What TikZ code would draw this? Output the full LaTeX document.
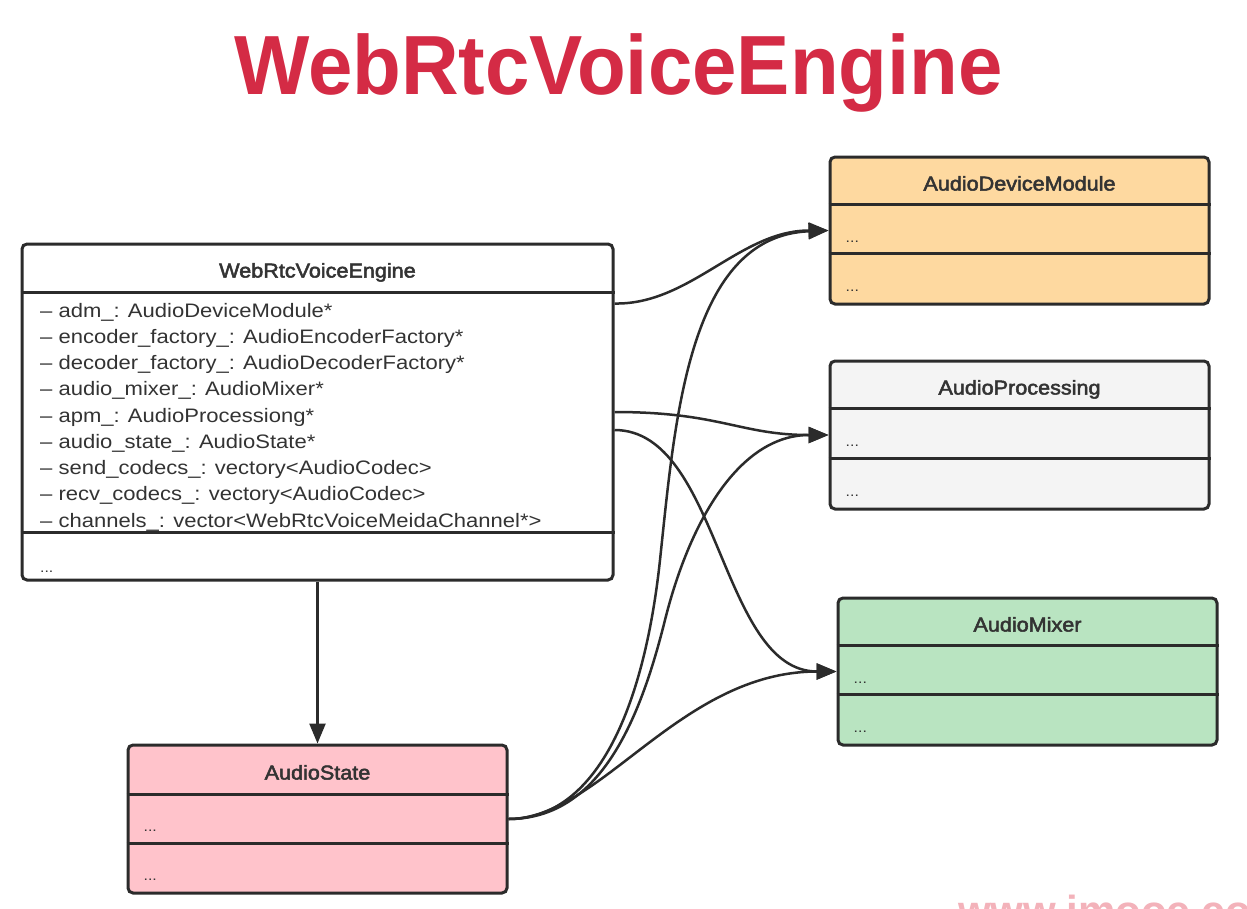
\documentclass[tikz,border=0pt]{standalone}
\usepackage{fontspec}
\setmainfont[FakeStretch=1.13]{Liberation Sans}
\newfontfamily\titlefont[FakeStretch=0.95]{Liberation Sans}
\newfontfamily\hdrfont[FakeStretch=1.08,FakeBold=2.5]{Liberation Sans}
\newfontfamily\wmfont{Liberation Sans}
\usetikzlibrary{arrows.meta,calc}
\definecolor{ink}{HTML}{2B2B2B}
\definecolor{txt}{HTML}{333333}
\definecolor{titlered}{HTML}{D42B45}
\definecolor{admfill}{HTML}{FED9A0}
\definecolor{apfill}{HTML}{F4F4F4}
\definecolor{amfill}{HTML}{B9E4C1}
\definecolor{asfill}{HTML}{FFC3CB}
\definecolor{wmpink}{HTML}{F3B2BA}
\tikzset{
  box/.style={draw=ink, line width=3pt, rounded corners=5pt, inner sep=0pt},
  sepline/.style={draw=ink, line width=3pt},
  hdr/.style={font=\hdrfont\fontsize{20}{24}\selectfont, text=txt, inner sep=0pt, anchor=base},
  attr/.style={font=\fontsize{19.5}{26}\selectfont, text=txt, inner sep=0pt, anchor=base west},
  dots/.style={font=\fontsize{14}{16}\selectfont, text=txt, inner sep=0pt, anchor=base west},
  conn/.style={draw=ink, line width=2.5pt, -{Triangle[length=20pt,width=16pt]}},
}
\begin{document}
\begin{tikzpicture}[x=1pt,y=-1pt]
\useasboundingbox[fill=white] (0,0) rectangle (1247,908);

% title
\node[font=\titlefont\fontsize{84}{90}\selectfont\bfseries, text=titlered, inner sep=0pt, anchor=base] (title) at (618.5,94) {WebRtcVoiceEngine};

% main class box
\node[box, fill=white, minimum width=591pt, minimum height=336pt] (eng) at (317.5,412) {};
\draw[sepline] ($(eng.north west)+(0,50)$) -- ($(eng.north east)+(0,50)$);
\draw[sepline] ($(eng.north west)+(0,290)$) -- ($(eng.north east)+(0,290)$);
\node[hdr] (engT) at ($(eng.north)+(0,35)$) {WebRtcVoiceEngine};
\foreach \t [count=\i from 0] in {
  adm\_: AudioDeviceModule*,
  encoder\_factory\_: AudioEncoderFactory*,
  decoder\_factory\_: AudioDecoderFactory*,
  audio\_mixer\_: AudioMixer*,
  apm\_: AudioProcessiong*,
  audio\_state\_: AudioState*,
  send\_codecs\_: vectory<AudioCodec>,
  recv\_codecs\_: vectory<AudioCodec>,
  channels\_: vector<WebRtcVoiceMeidaChannel*>}
  {\node[attr] (attr\i) at (40,{317+26.25*\i}) {– \t};}
\node[dots] (engD) at (40,572) {...};

% AudioDeviceModule
\node[box, fill=admfill, minimum width=379pt, minimum height=147pt] (adm) at (1019.5,230.5) {};
\draw[sepline] ($(adm.north west)+(0,49)$) -- ($(adm.north east)+(0,49)$);
\draw[sepline] ($(adm.north west)+(0,98)$) -- ($(adm.north east)+(0,98)$);
\node[hdr] (admT) at ($(adm.north)+(0,35)$) {AudioDeviceModule};
\node[dots] (admD1) at ($(adm.north west)+(17,87)$) {...};
\node[dots] (admD2) at ($(adm.north west)+(17,136)$) {...};

% AudioProcessing
\node[box, fill=apfill, minimum width=379pt, minimum height=148pt] (ap) at (1019.5,435) {};
\draw[sepline] ($(ap.north west)+(0,49)$) -- ($(ap.north east)+(0,49)$);
\draw[sepline] ($(ap.north west)+(0,99)$) -- ($(ap.north east)+(0,99)$);
\node[hdr] (apT) at ($(ap.north)+(0,35)$) {AudioProcessing};
\node[dots] (apD1) at ($(ap.north west)+(17,87)$) {...};
\node[dots] (apD2) at ($(ap.north west)+(17,137)$) {...};

% AudioMixer
\node[box, fill=amfill, minimum width=379pt, minimum height=147pt] (am) at (1027.5,671.5) {};
\draw[sepline] ($(am.north west)+(0,49)$) -- ($(am.north east)+(0,49)$);
\draw[sepline] ($(am.north west)+(0,98)$) -- ($(am.north east)+(0,98)$);
\node[hdr] (amT) at ($(am.north)+(0,35)$) {AudioMixer};
\node[dots] (amD1) at ($(am.north west)+(17,87)$) {...};
\node[dots] (amD2) at ($(am.north west)+(17,136)$) {...};

% AudioState
\node[box, fill=asfill, minimum width=379pt, minimum height=148pt] (as) at (317.5,819) {};
\draw[sepline] ($(as.north west)+(0,51)$) -- ($(as.north east)+(0,51)$);
\draw[sepline] ($(as.north west)+(0,100)$) -- ($(as.north east)+(0,100)$);
\node[hdr] (asT) at ($(as.north)+(0,36)$) {AudioState};
\node[dots] (asD1) at ($(as.north west)+(17,88)$) {...};
\node[dots] (asD2) at ($(as.north west)+(17,137)$) {...};

% ports
\coordinate (engADM) at ($(eng.north east)+(0,61)$);
\coordinate (engAM) at ($(eng.east)+(0,18)$);

% connectors
\draw[conn] (engADM) .. controls (690,305) and (740,230.5) .. (adm.west);
\draw[conn] (eng.east) .. controls (720,412) and (740,435) .. (ap.west);
\draw[conn] (engAM) .. controls (720,430) and (720,671.5) .. (am.west);
\draw[conn] (eng.south) -- (as.north);
\draw[conn] (as.east) .. controls (600,819) and (645,700) .. (660,560)
                      .. controls (675,420) and (688,236) .. (adm.west);
\draw[conn] (as.east) .. controls (600,819) and (640,720) .. (665,620)
                      .. controls (690,520) and (740,435) .. (ap.west);
\draw[conn] (as.east) .. controls (600,819) and (680,671.5) .. (am.west);

% watermark (cut off at the lower edge, as in the reference)
\begin{scope}
\clip (0,0) rectangle (1247,908);
\node[font=\wmfont\fontsize{42}{42}\selectfont\bfseries, text=wmpink, inner sep=0pt, anchor=base west] (wm) at (958,925) {www.imooc.com};
\end{scope}
\end{tikzpicture}
\end{document}
